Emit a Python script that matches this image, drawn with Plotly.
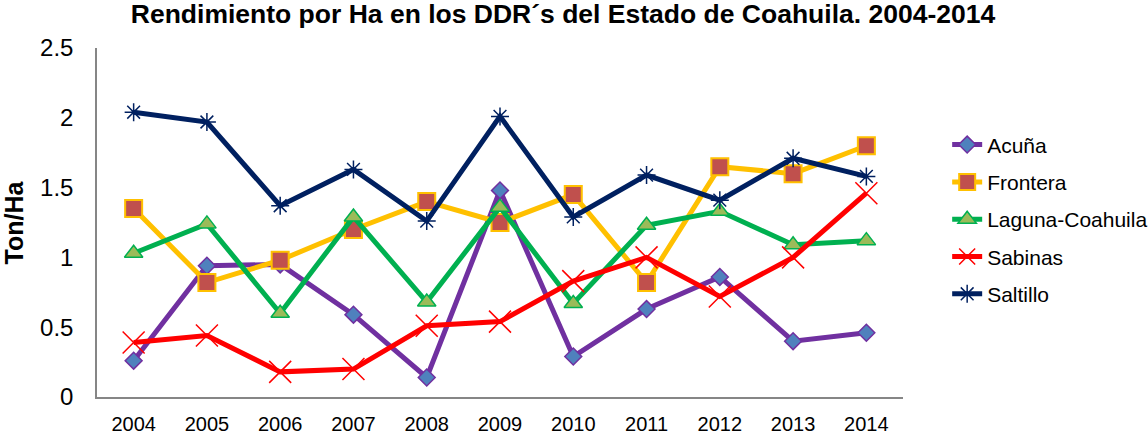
import plotly.graph_objects as go

years = ["2004", "2005", "2006", "2007", "2008", "2009", "2010", "2011", "2012", "2013", "2014"]
acuna = [0.26, 0.94, 0.95, 0.59, 0.14, 1.48, 0.29, 0.63, 0.86, 0.40, 0.46]
frontera = [1.35, 0.82, 0.98, 1.20, 1.40, 1.25, 1.45, 0.82, 1.65, 1.60, 1.80]
laguna = [1.03, 1.24, 0.60, 1.29, 0.68, 1.36, 0.67, 1.23, 1.33, 1.09, 1.12]
sabinas = [0.39, 0.44, 0.18, 0.20, 0.51, 0.54, 0.83, 1.00, 0.72, 1.00, 1.46]
saltillo = [2.04, 1.97, 1.37, 1.63, 1.26, 2.01, 1.29, 1.59, 1.41, 1.71, 1.58]

FONT = "Arial, Liberation Sans, sans-serif"
LW = 5

fig = go.Figure()

fig.add_trace(go.Scatter(
    x=years, y=acuna, name="Acuña", mode="lines+markers", legendgroup="a",
    line=dict(color="#7030A0", width=LW),
    marker=dict(symbol="diamond", size=13, color="#4F81BD", line=dict(color="#7030A0", width=1.5)),
))
fig.add_trace(go.Scatter(
    x=years, y=frontera, name="Frontera", mode="lines+markers", legendgroup="b",
    line=dict(color="#FFC000", width=LW),
    marker=dict(symbol="square", size=17, color="#C0504D", line=dict(color="#FFC000", width=2)),
))
fig.add_trace(go.Scatter(
    x=years, y=laguna, name="Laguna-Coahuila", mode="lines+markers", legendgroup="c",
    line=dict(color="#00B050", width=LW),
    marker=dict(symbol="triangle-up", size=16, color="#9BBB59", line=dict(color="#00B050", width=1.5)),
))
fig.add_trace(go.Scatter(
    x=years, y=sabinas, name="Sabinas", mode="lines+markers", legendgroup="d",
    line=dict(color="#FF0000", width=LW),
    marker=dict(symbol="x-thin", size=22, color="#FF0000", line=dict(color="#FF0000", width=1.5)),
))
fig.add_trace(go.Scatter(
    x=years, y=saltillo, name="Saltillo", mode="lines+markers", legendgroup="e",
    line=dict(color="#002060", width=LW),
    marker=dict(symbol="asterisk", size=15, color="#002060", line=dict(color="#002060", width=1.5)),
))

fig.update_layout(
    width=1148, height=438,
    margin=dict(l=97, r=245, t=48, b=41, autoexpand=False),
    paper_bgcolor="white", plot_bgcolor="white",
    font=dict(family=FONT, color="black"),
    title=dict(
        text="<b>Rendimiento por Ha en los DDR´s del Estado de Coahuila. 2004-2014</b>",
        x=563 / 1148, xref="container", xanchor="center", y=0.968, yref="container", yanchor="middle",
        font=dict(size=26.5, family=FONT, color="black"), automargin=False,
    ),
    showlegend=True,
    legend=dict(
        x=1.0548, xanchor="left", y=0.781, yanchor="top",
        font=dict(size=21, family=FONT, color="black"),
        tracegroupgap=7, bgcolor="rgba(0,0,0,0)",
    ),
    xaxis=dict(
        type="category", range=[-0.5, len(years) - 0.5],
        showgrid=False, zeroline=False, automargin=False,
        showline=True, linecolor="#868686", linewidth=1.5,
        ticks="", tickfont=dict(size=20, family=FONT, color="black"),
        ticklabelstandoff=8,
    ),
    yaxis=dict(
        range=[0, 2.5], dtick=0.5, showgrid=False, zeroline=False, automargin=False,
        showline=True, linecolor="#868686", linewidth=1.5,
        ticks="", tickfont=dict(size=24, family=FONT, color="black"),
        ticklabelstandoff=17,
    ),
    annotations=[dict(
        text="<b>Ton/Ha</b>", textangle=-90, xref="paper", yref="paper",
        x=(13 - 97) / 806, y=0.5, xanchor="center", yanchor="middle", showarrow=False,
        font=dict(size=25, family=FONT, color="black"),
    )],
)

fig.write_html(
    "out.html",
    config={"displayModeBar": False},
    post_script="document.body.style.margin='0';document.body.style.overflow='hidden';",
)
